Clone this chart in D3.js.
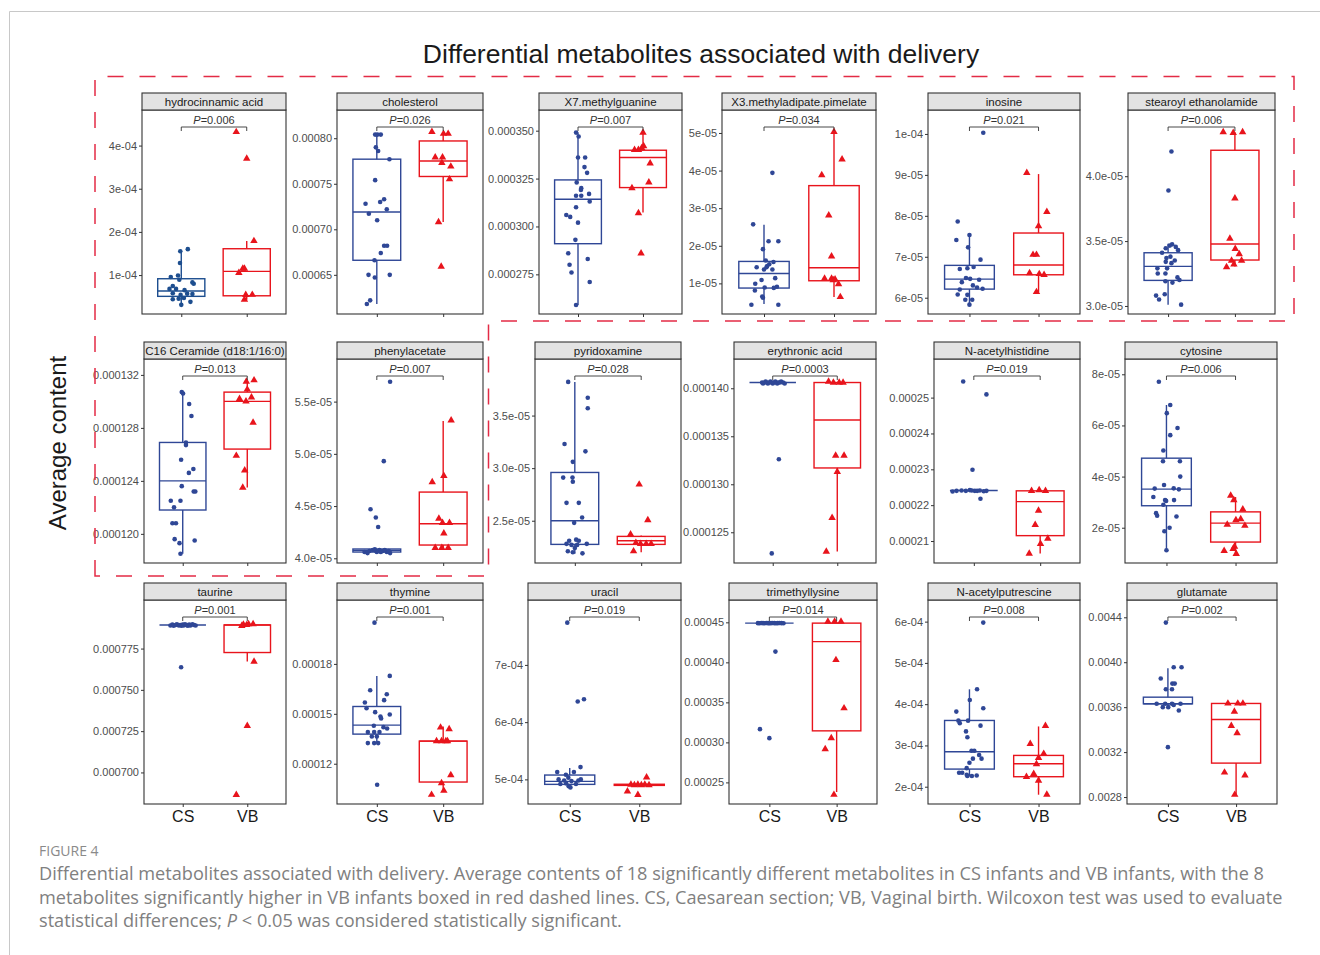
<!DOCTYPE html>
<html>
<head>
<meta charset="utf-8">
<script src="https://cdn.jsdelivr.net/npm/d3@7"></script>
<style>
  body { margin: 0; background: #fff; }
  svg { display: block; font-family: Arial, "Liberation Sans", sans-serif; }
</style>
</head>
<body>
<div class="chart"></div>
<script>
const groups = ['CS', 'VB'];

const metabolites = [
    'hydrocinnamic acid', 'cholesterol', 'X7.methylguanine', 'X3.methyladipate.pimelate', 'inosine', 'stearoyl ethanolamide',
    'C16 Ceramide (d18:1/16:0)', 'phenylacetate', 'pyridoxamine', 'erythronic acid', 'N-acetylhistidine', 'cytosine',
    'taurine', 'thymine', 'uracil', 'trimethyllysine', 'N-acetylputrescine', 'glutamate'
];

const pValues = ['0.006', '0.026', '0.007', '0.034', '0.021', '0.006', '0.013', '0.007', '0.028', '0.0003', '0.019', '0.006',
    '0.001', '0.001', '0.019', '0.014', '0.008', '0.002'];

// value at bottom / top edge of each panel
const yDomains = [
    [0.098e-4, 4.824e-4], [0.000607, 0.000831], [0.0002543, 0.0003608], [0.186e-5, 5.611e-5], [5.602e-5, 1.0585e-4], [2.938e-5, 4.5103e-5],
    [0.0001178, 0.0001332], [3.955e-5, 5.908e-5], [2.098e-5, 4.038e-5], [0.0001218, 0.00014305], [0.00020387, 0.00026077], [0.621e-5, 8.598e-5],
    [0.0006809, 0.0008044], [0.0000958, 0.0002184], [4.57e-4, 8.134e-4], [0.000223, 0.0004779], [1.581e-4, 6.524e-4], [0.002738, 0.004554]
];

const yTicks = [
    [1e-4, 2e-4, 3e-4, 4e-4], [0.00065, 0.0007, 0.00075, 0.0008], [0.000275, 0.0003, 0.000325, 0.00035], [1e-5, 2e-5, 3e-5, 4e-5, 5e-5],
    [6e-5, 7e-5, 8e-5, 9e-5, 1e-4], [3.0e-5, 3.5e-5, 4.0e-5],
    [0.00012, 0.000124, 0.000128, 0.000132], [4.0e-5, 4.5e-5, 5.0e-5, 5.5e-5], [2.5e-5, 3.0e-5, 3.5e-5], [0.000125, 0.00013, 0.000135, 0.00014],
    [0.00021, 0.00022, 0.00023, 0.00024, 0.00025], [2e-5, 4e-5, 6e-5, 8e-5],
    [0.0007, 0.000725, 0.00075, 0.000775], [0.00012, 0.00015, 0.00018], [5e-4, 6e-4, 7e-4], [0.00025, 0.0003, 0.00035, 0.0004, 0.00045],
    [2e-4, 3e-4, 4e-4, 5e-4, 6e-4], [0.0028, 0.0032, 0.0036, 0.004, 0.0044]
];

const yTickLabels = [
    ['1e-04', '2e-04', '3e-04', '4e-04'], ['0.00065', '0.00070', '0.00075', '0.00080'], ['0.000275', '0.000300', '0.000325', '0.000350'],
    ['1e-05', '2e-05', '3e-05', '4e-05', '5e-05'], ['6e-05', '7e-05', '8e-05', '9e-05', '1e-04'], ['3.0e-05', '3.5e-05', '4.0e-05'],
    ['0.000120', '0.000124', '0.000128', '0.000132'], ['4.0e-05', '4.5e-05', '5.0e-05', '5.5e-05'], ['2.5e-05', '3.0e-05', '3.5e-05'],
    ['0.000125', '0.000130', '0.000135', '0.000140'], ['0.00021', '0.00022', '0.00023', '0.00024', '0.00025'], ['2e-05', '4e-05', '6e-05', '8e-05'],
    ['0.000700', '0.000725', '0.000750', '0.000775'], ['0.00012', '0.00015', '0.00018'], ['5e-04', '6e-04', '7e-04'],
    ['0.00025', '0.00030', '0.00035', '0.00040', '0.00045'], ['2e-04', '3e-04', '4e-04', '5e-04', '6e-04'], ['0.0028', '0.0032', '0.0036', '0.0040', '0.0044']
];

// box stats: [lower whisker, q1, median, q3, upper whisker]
const csBoxes = [
    [0.31e-4, 0.507e-4, 0.63e-4, 0.915e-4, 1.55e-4], [0.000618, 0.000666, 0.000719, 0.000777, 0.000804],
    [0.000259, 0.000291, 0.0003142, 0.0003243, 0.000349], [0.45e-5, 0.876e-5, 1.265e-5, 1.584e-5, 2.56e-5],
    [5.83e-5, 6.21e-5, 6.455e-5, 6.79e-5, 7.54e-5], [3.01e-5, 3.197e-5, 3.305e-5, 3.41e-5, 3.48e-5],
    [0.0001185, 0.0001218, 0.000124, 0.0001269, 0.0001307], [4.05e-5, 4.06e-5, 4.076e-5, 4.089e-5, 4.09e-5],
    [2.187e-5, 2.275e-5, 2.5e-5, 2.959e-5, 3.82e-5], [0.0001406, 0.0001406, 0.0001406, 0.0001406, 0.0001406],
    [0.0002241, 0.0002241, 0.0002241, 0.0002241, 0.0002241], [1.12e-5, 2.86e-5, 3.51e-5, 4.72e-5, 6.8e-5],
    [0.0007893, 0.0007893, 0.0007893, 0.0007893, 0.0007893], [0.0001324, 0.0001378, 0.0001432, 0.0001544, 0.0001728],
    [4.86e-4, 4.913e-4, 4.965e-4, 5.076e-4, 5.2e-4], [0.000449, 0.000449, 0.000449, 0.000449, 0.000449],
    [2.25e-4, 2.427e-4, 2.847e-4, 3.605e-4, 4.36e-4], [0.00359, 0.00363, 0.00363, 0.003689, 0.003947]
];
const vbBoxes = [
    [0.43e-4, 0.52e-4, 1.085e-4, 1.61e-4, 1.79e-4], [0.000708, 0.000758, 0.000775, 0.000797, 0.000804],
    [0.0003073, 0.0003203, 0.000336, 0.0003398, 0.000349], [0.64e-5, 1.07e-5, 1.416e-5, 3.60e-5, 5.03e-5],
    [6.14e-5, 6.56e-5, 6.80e-5, 7.58e-5, 9.02e-5], [3.305e-5, 3.354e-5, 3.477e-5, 4.2e-5, 4.336e-5],
    [0.0001235, 0.0001264, 0.00013, 0.0001307, 0.0001316], [4.1e-5, 4.127e-5, 4.331e-5, 4.634e-5, 5.315e-5],
    [2.2e-5, 2.275e-5, 2.31e-5, 2.351e-5, 2.36e-5], [0.000123, 0.0001317, 0.0001367, 0.0001406, 0.0001406],
    [0.0002065, 0.0002115, 0.000221, 0.000224, 0.000224], [0.985e-5, 1.44e-5, 2.18e-5, 2.62e-5, 3.2e-5],
    [0.0007671, 0.0007726, 0.0007893, 0.0007893, 0.0007893], [0.000103, 0.000109, 0.0001336, 0.0001336, 0.0001424],
    [4.895e-4, 4.895e-4, 4.905e-4, 4.915e-4, 4.915e-4], [0.000238, 0.0003144, 0.0004259, 0.000449, 0.000449],
    [1.806e-4, 2.242e-4, 2.556e-4, 2.758e-4, 3.46e-4], [0.00282, 0.003102, 0.00349, 0.003633, 0.003633]
];

// points: [horizontal jitter in category steps, value]
const csPoints = [
    [[-0.015, 1.55e-4], [0.1, 1.6e-4], [-0.02, 1.28e-4], [-0.16, 0.954e-4], [-0.05, 0.99e-4], [-0.03, 0.89e-4], [0.17, 0.83e-4], [0.19, 0.8e-4],
     [-0.13, 0.745e-4], [-0.18, 0.68e-4], [-0.08, 0.68e-4], [0.05, 0.65e-4], [-0.13, 0.58e-4], [-0.01, 0.54e-4], [0.09, 0.57e-4], [0.17, 0.56e-4],
     [-0.13, 0.44e-4], [0.04, 0.47e-4], [0.14, 0.38e-4], [0.0, 0.31e-4], [-0.04, 0.45e-4]],
    [[-0.025, 0.000804], [0.01, 0.000804], [0.06, 0.000804], [-0.015, 0.00079], [0.02, 0.000786], [0.19, 0.000777], [-0.025, 0.000754],
     [-0.17, 0.000728], [0.11, 0.000733], [0.05, 0.00073], [-0.12, 0.000717], [0.15, 0.000722], [0.005, 0.00071], [0.11, 0.000682],
     [0.155, 0.000682], [0.06, 0.000674], [-0.035, 0.000666], [-0.125, 0.00065], [0.195, 0.00065], [-0.03, 0.000647], [-0.1, 0.000622], [-0.15, 0.000618]],
    [[-0.03, 0.000349], [0.01, 0.000347], [0.0, 0.000336], [0.11, 0.000336], [0.1, 0.000331], [0.14, 0.000328], [-0.02, 0.000323], [0.05, 0.00032],
     [0.045, 0.000319], [-0.03, 0.000316], [0.05, 0.000316], [0.17, 0.000317], [0.18, 0.000313], [-0.03, 0.00031], [-0.18, 0.000306], [-0.12, 0.000305],
     [0.0, 0.000302], [-0.04, 0.000293], [-0.15, 0.000286], [-0.13, 0.00028], [-0.1, 0.000276], [0.15, 0.000283], [0.18, 0.000271], [-0.03, 0.000259]],
    [[0.12, 3.94e-5], [-0.155, 2.57e-5], [0.065, 2.12e-5], [0.205, 2.12e-5], [-0.015, 1.91e-5], [0.025, 1.61e-5], [0.135, 1.57e-5], [0.075, 1.51e-5],
     [0.045, 1.46e-5], [-0.105, 1.43e-5], [0.035, 1.43e-5], [0.0, 1.37e-5], [0.12, 1.37e-5], [-0.035, 1.09e-5], [0.16, 1.14e-5], [-0.125, 0.99e-5],
     [-0.13, 0.81e-5], [0.01, 0.89e-5], [0.185, 0.91e-5], [0.14, 0.88e-5], [-0.025, 0.65e-5], [-0.015, 0.62e-5], [-0.18, 0.43e-5], [0.205, 0.43e-5]],
    [[0.2, 1.003e-4], [-0.17, 7.86e-5], [-0.19, 7.41e-5], [0.0, 7.53e-5], [-0.02, 7.23e-5], [0.16, 6.93e-5], [-0.14, 6.7e-5], [-0.03, 6.72e-5],
     [0.06, 6.75e-5], [-0.05, 6.48e-5], [0.01, 6.46e-5], [0.14, 6.44e-5], [-0.11, 6.38e-5], [0.05, 6.3e-5], [-0.14, 6.2e-5], [0.11, 6.25e-5],
     [0.19, 6.22e-5], [-0.03, 6.07e-5], [-0.17, 6.08e-5], [0.04, 5.95e-5], [-0.06, 5.95e-5], [0.0, 5.83e-5]],
    [[0.05, 4.19e-5], [0.005, 3.89e-5], [0.06, 3.475e-5], [0.025, 3.465e-5], [-0.035, 3.445e-5], [0.115, 3.455e-5], [0.15, 3.43e-5], [-0.09, 3.41e-5],
     [-0.025, 3.37e-5], [0.035, 3.38e-5], [0.1, 3.35e-5], [-0.035, 3.34e-5], [0.05, 3.33e-5], [-0.16, 3.29e-5], [-0.015, 3.29e-5], [-0.155, 3.25e-5],
     [-0.04, 3.25e-5], [0.14, 3.22e-5], [0.17, 3.2e-5], [-0.04, 3.19e-5], [0.065, 3.18e-5], [-0.05, 3.09e-5], [-0.18, 3.08e-5], [-0.135, 3.05e-5], [0.195, 3.01e-5]],
    [[-0.015, 0.0001307], [0.005, 0.0001306], [0.1, 0.0001298], [0.135, 0.0001289], [0.05, 0.0001269], [0.05, 0.0001267], [-0.025, 0.0001256],
     [0.165, 0.0001249], [0.095, 0.0001246], [-0.015, 0.0001236], [0.17, 0.0001232], [0.195, 0.0001232], [-0.185, 0.0001225], [-0.035, 0.0001225],
     [-0.135, 0.000122], [-0.16, 0.0001208], [-0.105, 0.0001208], [-0.125, 0.0001196], [-0.05, 0.0001193], [0.185, 0.0001195], [-0.035, 0.0001185]],
    [[0.2, 5.69e-5], [0.105, 4.93e-5], [-0.095, 4.47e-5], [-0.015, 4.39e-5], [0.02, 4.3e-5], [-0.185, 4.06e-5], [-0.11, 4.07e-5], [-0.06, 4.08e-5],
     [-0.01, 4.07e-5], [0.04, 4.08e-5], [0.09, 4.07e-5], [0.15, 4.06e-5], [0.2, 4.05e-5], [-0.14, 4.05e-5], [0.0, 4.06e-5], [0.12, 4.08e-5],
     [-0.03, 4.085e-5], [0.06, 4.06e-5], [0.18, 4.07e-5]],
    [[-0.1, 3.82e-5], [0.195, 3.67e-5], [0.195, 3.57e-5], [-0.155, 3.23e-5], [0.16, 3.16e-5], [-0.03, 3.06e-5], [-0.175, 2.91e-5], [-0.035, 2.91e-5],
     [-0.03, 2.87e-5], [-0.125, 2.67e-5], [0.06, 2.67e-5], [0.11, 2.53e-5], [-0.01, 2.48e-5], [-0.085, 2.31e-5], [0.02, 2.32e-5], [0.06, 2.31e-5],
     [-0.125, 2.28e-5], [0.18, 2.28e-5], [-0.05, 2.27e-5], [0.035, 2.27e-5], [-0.105, 2.21e-5], [-0.03, 2.2e-5], [0.115, 2.19e-5], [0.0, 2.24e-5]],
    [[-0.165, 0.0001406], [-0.15, 0.0001405], [-0.125, 0.0001406], [-0.11, 0.0001407], [-0.09, 0.0001406], [-0.075, 0.0001405], [-0.05, 0.0001406],
     [-0.035, 0.0001407], [-0.015, 0.0001406], [0.0, 0.0001405], [0.02, 0.0001406], [0.04, 0.0001407], [0.055, 0.0001406], [0.07, 0.0001405],
     [0.09, 0.0001406], [0.11, 0.0001406], [0.13, 0.0001407], [0.16, 0.0001406], [0.185, 0.0001405], [0.095, 0.0001326], [-0.015, 0.0001228]],
    [[-0.16, 0.0002545], [0.19, 0.0002509], [-0.02, 0.0002299], [-0.32, 0.0002238], [-0.26, 0.000224], [-0.185, 0.0002241], [-0.12, 0.000224],
     [-0.06, 0.0002242], [0.015, 0.000224], [0.09, 0.0002241], [0.15, 0.0002239], [0.19, 0.000224], [-0.03, 0.0002241], [0.05, 0.000224], [0.1, 0.0002218]],
    [[-0.11, 7.71e-5], [0.055, 6.8e-5], [0.005, 6.48e-5], [0.16, 5.9e-5], [0.055, 5.62e-5], [-0.045, 5.02e-5], [-0.05, 4.6e-5], [0.195, 4.6e-5],
     [0.2, 4.0e-5], [-0.035, 3.67e-5], [-0.17, 3.53e-5], [0.105, 3.54e-5], [0.18, 3.5e-5], [-0.19, 3.2e-5], [-0.02, 3.08e-5], [-0.005, 3.05e-5],
     [0.11, 3.08e-5], [-0.045, 2.9e-5], [-0.15, 2.57e-5], [-0.135, 2.47e-5], [0.145, 2.44e-5], [0.045, 2.0e-5], [-0.03, 1.86e-5], [0.0, 1.12e-5]],
    [[-0.19, 0.000789], [-0.16, 0.0007895], [-0.14, 0.0007888], [-0.11, 0.0007893], [-0.09, 0.0007897], [-0.06, 0.000789], [-0.04, 0.0007893],
     [-0.02, 0.0007888], [0.0, 0.0007895], [0.015, 0.000789], [0.035, 0.0007897], [0.06, 0.0007892], [0.08, 0.0007888], [0.1, 0.0007895],
     [0.12, 0.000789], [0.15, 0.0007897], [0.175, 0.0007893], [0.2, 0.000789], [-0.025, 0.0007637]],
    [[-0.035, 0.0002048], [0.195, 0.0001728], [-0.1, 0.0001642], [0.15, 0.0001618], [0.11, 0.0001582], [-0.18, 0.0001568], [-0.155, 0.0001534],
     [-0.025, 0.000151], [0.055, 0.0001484], [0.065, 0.0001472], [0.195, 0.0001496], [-0.045, 0.0001428], [0.1, 0.000142], [0.155, 0.0001412],
     [-0.135, 0.000139], [-0.04, 0.000139], [0.04, 0.000139], [-0.075, 0.0001364], [0.0, 0.0001364], [-0.135, 0.0001324], [-0.04, 0.0001324],
     [0.02, 0.0001324], [0.005, 0.0001074]],
    [[-0.035, 7.738e-4], [0.115, 6.36e-4], [0.205, 6.4e-4], [0.155, 5.215e-4], [-0.18, 5.13e-4], [-0.055, 5.08e-4], [0.06, 5.13e-4], [-0.02, 5.03e-4],
     [-0.16, 5.0e-4], [0.16, 5.0e-4], [-0.08, 4.98e-4], [0.025, 4.97e-4], [0.125, 4.98e-4], [-0.135, 4.92e-4], [-0.05, 4.93e-4], [0.09, 4.92e-4],
     [-0.015, 4.88e-4], [0.01, 4.86e-4]],
    [[-0.17, 0.000449], [-0.145, 0.0004488], [-0.12, 0.0004492], [-0.095, 0.000449], [-0.07, 0.0004488], [-0.045, 0.0004492], [-0.02, 0.000449],
     [0.0, 0.0004488], [0.025, 0.000449], [0.05, 0.0004492], [0.075, 0.000449], [0.1, 0.0004488], [0.125, 0.000449], [0.15, 0.0004492],
     [0.18, 0.000449], [0.21, 0.0004488], [0.09, 0.0004134], [-0.14, 0.0003165], [0.0, 0.0003053]],
    [[0.2, 5.976e-4], [0.11, 4.36e-4], [0.005, 4.1e-4], [0.2, 3.9e-4], [-0.19, 3.82e-4], [-0.16, 3.6e-4], [-0.02, 3.6e-4], [-0.14, 3.54e-4],
     [0.16, 3.48e-4], [-0.05, 3.34e-4], [-0.03, 3.2e-4], [0.03, 2.87e-4], [0.07, 2.87e-4], [0.14, 2.77e-4], [0.175, 2.68e-4], [0.05, 2.68e-4],
     [0.0, 2.58e-4], [-0.04, 2.45e-4], [-0.15, 2.34e-4], [-0.105, 2.34e-4], [-0.04, 2.29e-4], [0.035, 2.26e-4], [0.105, 2.27e-4], [-0.03, 2.26e-4]],
    [[-0.03, 0.004353], [0.2, 0.003956], [0.085, 0.003956], [-0.105, 0.003855], [0.065, 0.00381], [0.1, 0.00381], [-0.03, 0.00376], [0.06, 0.00376],
     [-0.165, 0.00363], [-0.04, 0.00363], [0.06, 0.00363], [0.185, 0.00363], [0.085, 0.00362], [-0.075, 0.0036], [0.005, 0.0036], [0.16, 0.00357],
     [0.0, 0.003244]]
];
const vbPoints = [
    [[-0.16, 4.315e-4], [0.0, 3.7e-4], [0.11, 1.79e-4], [-0.12, 1.05e-4], [-0.06, 1.15e-4], [-0.035, 1.15e-4], [-0.015, 0.54e-4], [0.085, 0.545e-4], [-0.035, 0.43e-4]],
    [[-0.17, 0.000807], [0.005, 0.000805], [0.075, 0.000805], [-0.12, 0.000779], [-0.01, 0.000779], [-0.02, 0.000773], [0.115, 0.000769],
     [0.095, 0.000755], [-0.07, 0.000708], [-0.03, 0.000659]],
    [[0.0, 0.000349], [-0.13, 0.00034], [-0.02, 0.000341], [0.01, 0.000342], [-0.07, 0.00034], [0.11, 0.000333], [0.09, 0.000323], [-0.17, 0.00032],
     [-0.07, 0.000307], [-0.03, 0.000286]],
    [[0.0, 5.03e-5], [0.115, 4.3e-5], [-0.175, 3.88e-5], [-0.075, 2.81e-5], [-0.035, 1.72e-5], [-0.135, 1.13e-5], [-0.035, 1.13e-5], [-0.01, 1.09e-5],
     [0.015, 1.11e-5], [0.065, 0.98e-5], [0.09, 0.64e-5]],
    [[-0.17, 9.05e-5], [0.12, 8.1e-5], [0.0, 7.75e-5], [-0.08, 7.05e-5], [-0.03, 7.05e-5], [-0.13, 6.6e-5], [0.01, 6.58e-5], [0.08, 6.56e-5], [-0.03, 6.14e-5]],
    [[-0.175, 4.34e-5], [-0.025, 4.335e-5], [0.115, 4.34e-5], [0.0, 3.83e-5], [-0.075, 3.52e-5], [0.005, 3.44e-5], [0.065, 3.4e-5], [-0.05, 3.35e-5],
     [0.1, 3.35e-5], [-0.125, 3.3e-5], [-0.015, 3.32e-5]],
    [[-0.015, 0.0001315], [0.105, 0.0001316], [0.0, 0.0001309], [-0.12, 0.0001302], [-0.02, 0.00013], [0.065, 0.0001303], [0.09, 0.0001284],
     [-0.17, 0.0001259], [-0.04, 0.0001248], [-0.07, 0.0001235]],
    [[0.12, 5.32e-5], [0.01, 4.79e-5], [-0.165, 4.73e-5], [-0.065, 4.38e-5], [-0.01, 4.34e-5], [0.095, 4.34e-5], [0.01, 4.24e-5], [-0.12, 4.1e-5],
     [-0.02, 4.1e-5], [0.075, 4.1e-5]],
    [[-0.03, 2.845e-5], [0.1, 2.506e-5], [-0.16, 2.37e-5], [-0.08, 2.29e-5], [-0.01, 2.28e-5], [0.075, 2.28e-5], [0.15, 2.28e-5], [-0.115, 2.21e-5]],
    [[-0.135, 0.0001407], [-0.06, 0.0001406], [0.03, 0.0001406], [0.09, 0.0001406], [-0.025, 0.000133], [0.105, 0.000133], [0.0, 0.0001313],
     [-0.08, 0.0001265], [-0.17, 0.000123]],
    [[-0.13, 0.000224], [-0.015, 0.0002242], [0.08, 0.000224], [-0.025, 0.0002185], [-0.075, 0.0002145], [0.115, 0.0002107], [0.005, 0.0002092], [-0.165, 0.0002065]],
    [[-0.07, 3.26e-5], [-0.025, 3.08e-5], [0.105, 2.72e-5], [0.075, 2.34e-5], [0.005, 2.3e-5], [-0.12, 2.12e-5], [0.135, 2.08e-5], [-0.015, 1.26e-5],
     [-0.035, 1.17e-5], [-0.165, 1.1e-5], [0.01, 0.98e-5]],
    [[-0.06, 0.0007895], [-0.01, 0.0007893], [-0.085, 0.0007888], [0.02, 0.0007898], [0.09, 0.0007898], [0.105, 0.0007671], [0.0, 0.0007282], [-0.17, 0.0006865]],
    [[-0.04, 0.0001418], [0.09, 0.0001408], [-0.1, 0.0001336], [-0.025, 0.0001336], [0.04, 0.0001336], [0.065, 0.0001336], [0.115, 0.0001132],
     [-0.025, 0.0001084], [0.01, 0.0001038], [-0.175, 0.0001014]],
    [[0.105, 5.035e-4], [-0.17, 4.79e-4], [-0.02, 4.73e-4], [-0.12, 4.91e-4], [-0.07, 4.9e-4], [-0.02, 4.91e-4], [0.03, 4.9e-4], [0.08, 4.91e-4], [0.14, 4.9e-4]],
    [[-0.13, 0.000451], [-0.03, 0.000451], [0.065, 0.000451], [-0.01, 0.000403], [0.11, 0.0003427], [-0.08, 0.0003053], [-0.17, 0.0002916], [-0.04, 0.0002346]],
    [[0.1, 3.476e-4], [-0.12, 3.04e-4], [0.075, 2.8e-4], [0.0, 2.7e-4], [-0.03, 2.55e-4], [-0.07, 2.31e-4], [-0.175, 2.24e-4], [0.0, 2.15e-4], [0.12, 1.81e-4]],
    [[-0.12, 0.003633], [0.025, 0.003633], [0.1, 0.003633], [-0.025, 0.003561], [-0.07, 0.003434], [0.015, 0.003369], [-0.17, 0.003019],
     [0.13, 0.002993], [-0.02, 0.002821]]
];

const captionLines = [
    'Differential metabolites associated with delivery. Average contents of 18 significantly different metabolites in CS infants and VB infants, with the 8',
    'metabolites significantly higher in VB infants boxed in red dashed lines. CS, Caesarean section; VB, Vaginal birth. Wilcoxon test was used to evaluate',
    'statistical differences; |P| < 0.05 was considered statistically significant.'
];

// layout
const width = 1320, height = 955;
const panelXs = [[142, 286], [337, 483], [539, 682], [722, 876], [928, 1080], [1128, 1275],
                 [144, 286], [337, 483], [535, 681], [734, 876], [934, 1080], [1125, 1277],
                 [144, 286], [337, 483], [528, 681], [729, 877], [928, 1080], [1127, 1277]];
const rowTops = [93, 342, 583];
const stripH = 17, plotH = 204;
const csColor = '#2f4796', vbColor = '#e8141c', darkBlue = '#1d4e8f';

const svg = d3.select('div.chart').append('svg').attr('width', width).attr('height', height);
svg.append('rect').attr('width', width).attr('height', height).attr('fill', '#fff');

// page frame
svg.append('path').attr('d', `M9.5,${height} V11.5 H${width}`).attr('fill', 'none').attr('stroke', '#c8c8c8').attr('stroke-width', 1);

svg.append('text').attr('x', 701).attr('y', 63).attr('text-anchor', 'middle')
    .attr('font-size', 26.5).attr('fill', '#1a1a1a').text('Differential metabolites associated with delivery');

svg.append('text').attr('transform', 'translate(66,443) rotate(-90)').attr('text-anchor', 'middle')
    .attr('font-size', 24).attr('fill', '#1a1a1a').text('Average content');

metabolites.forEach((name, i) => {
    const row = Math.floor(i / 6);
    const [x0, x1] = panelXs[i];
    const stripTop = rowTops[row];
    const top = stripTop + stripH, bottom = top + plotH;
    const g = svg.append('g').classed('panel', true);

    const x = d3.scalePoint().domain(groups).range([x0, x1]).padding(0.6);
    const step = x.step();
    const y = d3.scaleLinear().domain(yDomains[i]).range([bottom, top]);

    g.append('rect').attr('x', x0).attr('y', top).attr('width', x1 - x0).attr('height', plotH).attr('fill', '#fff');

    const blue = i === 0 ? darkBlue : csColor;
    [[csBoxes[i], blue, 'CS'], [vbBoxes[i], vbColor, 'VB']].forEach(([b, color, grp]) => {
        const cx = x(grp);
        const bg = g.append('g').attr('stroke', color).attr('stroke-width', 1.4).attr('fill', 'none');
        bg.append('line').attr('x1', cx).attr('x2', cx).attr('y1', y(b[3])).attr('y2', y(b[4]));
        bg.append('line').attr('x1', cx).attr('x2', cx).attr('y1', y(b[1])).attr('y2', y(b[0]));
        bg.append('rect').attr('x', cx - 0.36 * step).attr('width', 0.72 * step)
            .attr('y', y(b[3])).attr('height', Math.max(0, y(b[1]) - y(b[3])));
        bg.append('line').attr('x1', cx - 0.36 * step).attr('x2', cx + 0.36 * step).attr('y1', y(b[2])).attr('y2', y(b[2]));
    });

    g.append('g').selectAll('circle').data(csPoints[i]).enter().append('circle')
        .attr('cx', d => x('CS') + d[0] * step).attr('cy', d => y(d[1])).attr('r', 2.3).attr('fill', blue);
    const tri = d3.symbol().type(d3.symbolTriangle).size(24);
    g.append('g').selectAll('path').data(vbPoints[i]).enter().append('path')
        .attr('d', tri).attr('transform', d => `translate(${x('VB') + d[0] * step},${y(d[1])})`).attr('fill', vbColor);

    // significance bracket
    const by = top + 17;
    g.append('path').attr('d', `M${x('CS')},${by + 4} V${by} H${x('VB')} V${by + 4}`)
        .attr('fill', 'none').attr('stroke', '#333').attr('stroke-width', 0.9);
    const pt = g.append('text').attr('x', (x('CS') + x('VB')) / 2).attr('y', by - 3).attr('text-anchor', 'middle')
        .attr('font-size', 11).attr('fill', '#333');
    pt.append('tspan').attr('font-style', 'italic').text('P');
    pt.append('tspan').text('=' + pValues[i]);

    // axes
    const yAxis = d3.axisLeft(y).tickValues(yTicks[i]).tickFormat((d, j) => yTickLabels[i][j]).tickSize(3).tickPadding(2);
    const ya = g.append('g').attr('transform', `translate(${x0},0)`).call(yAxis);
    ya.select('.domain').remove();
    ya.selectAll('text').attr('font-size', 11).attr('fill', '#4d4d4d').attr('font-family', 'Arial, "Liberation Sans", sans-serif');
    ya.selectAll('line').attr('stroke', '#333');

    const xAxis = d3.axisBottom(x).tickSize(3).tickPadding(4).tickFormat(d => row === 2 ? d : '');
    const xa = g.append('g').attr('transform', `translate(0,${bottom})`).call(xAxis);
    xa.select('.domain').remove();
    xa.selectAll('text').attr('font-size', 16).attr('fill', '#1a1a1a').attr('font-family', 'Arial, "Liberation Sans", sans-serif');
    xa.selectAll('line').attr('stroke', '#333');

    g.append('rect').attr('x', x0).attr('y', top).attr('width', x1 - x0).attr('height', plotH)
        .attr('fill', 'none').attr('stroke', '#333').attr('stroke-width', 1.1);

    g.append('rect').attr('x', x0).attr('y', stripTop).attr('width', x1 - x0).attr('height', stripH)
        .attr('fill', '#e3e3e3').attr('stroke', '#333').attr('stroke-width', 1.1);
    g.append('text').attr('x', (x0 + x1) / 2).attr('y', stripTop + 12.5).attr('text-anchor', 'middle')
        .attr('font-size', 11.5).attr('fill', '#1a1a1a').text(name);
});

// red dashed outline around the metabolites higher in VB
svg.append('path').attr('d', 'M95,576 V76.5 H1294 V321 H488.5 V576 Z')
    .attr('fill', 'none').attr('stroke', '#e32b45').attr('stroke-width', 1.5).attr('stroke-dasharray', '16 16');

// caption
const capFont = '"Open Sans", "Noto Sans", sans-serif';
svg.append('text').attr('x', 39).attr('y', 856).attr('font-size', 14).attr('font-family', capFont)
    .attr('fill', '#8a8a8a').text('FIGURE 4');
const capTexts = captionLines.map((line, k) => {
    const t = svg.append('text').attr('x', 39).attr('y', 880 + k * 23.5).attr('font-size', 17)
        .attr('font-family', capFont).attr('fill', '#808080');
    line.split('|').forEach((part, j) => {
        t.append('tspan').attr('font-style', j % 2 ? 'italic' : null).text(part);
    });
    return t;
});
const w0 = capTexts[0].node().getComputedTextLength();
const capSize = 17 * 1226 / w0;
capTexts.forEach(t => t.attr('font-size', capSize));
</script>
</body>
</html>
